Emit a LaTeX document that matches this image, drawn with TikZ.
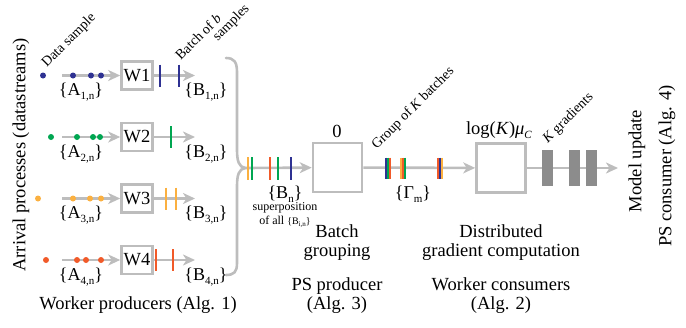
\documentclass[tikz,border=0pt]{standalone}
\usepackage{fontspec}
\setmainfont{Liberation Serif}
\usetikzlibrary{arrows.meta}

\definecolor{cblue}{HTML}{2E3192}
\definecolor{cgreen}{HTML}{00A651}
\definecolor{corange}{HTML}{FBB040}
\definecolor{cred}{HTML}{F15A29}
\definecolor{flow}{HTML}{BDBDBD}
\definecolor{gradbar}{HTML}{8C8C8C}

% lowered small subscript used in the set labels
\newcommand\lowsub[1]{\raisebox{-0.5ex}{\fontsize{11}{11}\selectfont #1}}

\tikzset{
  flowline/.style={draw=flow, line width=2.6pt},
  flowarrow/.style={flowline, -{Stealth[length=12pt,width=11pt,inset=3.5pt]}},
  wbox/.style={draw=flow, line width=2.6pt, fill=white, minimum width=31pt,
    minimum height=28pt, inner sep=0pt, font=\fontsize{18.5}{19}\selectfont},
  bigbox/.style={draw=flow, line width=2.6pt, fill=white, minimum size=49pt, inner sep=0pt},
  lbl/.style={font=\fontsize{18.5}{19}\selectfont, inner sep=0pt, align=center},
  setlbl/.style={font=\fontsize{18}{18}\selectfont, inner sep=0pt, anchor=base},
  small/.style={font=\fontsize{12}{12}\selectfont, inner sep=0pt, anchor=base},
  rotlbl/.style={font=\fontsize{14}{14}\selectfont, inner sep=0pt, rotate=45, anchor=south west},
  bar/.style={line width=2.4pt},
  thinbar/.style={line width=2.3pt},
}

\begin{document}
\begin{tikzpicture}[x=1pt,y=1pt]
\useasboundingbox (0,-327) rectangle (686,0);

% ---------- worker producers ----------
\foreach \i/\y/\c/\first/\da/\db/\dc in {
    1/-75.5/cblue/43/73/91/101,
    2/-137/cgreen/51/77/93/100,
    3/-198.5/corange/38/73/90/101,
    4/-260/cred/46/77/86/101} {
  \coordinate (in\i) at (62,\y);
  \coordinate (out\i) at (195,\y);
  \node[wbox] (w\i) at (137,\y) {W\i};
  \draw[flowarrow] (in\i) -- (w\i);
  \draw[flowarrow] (w\i) -- (out\i);
  \fill[\c] (\first,\y) circle (3pt);
  \fill[\c] (\da,\y) circle (3pt);
  \fill[\c] (\db,\y) circle (3pt);
  \fill[\c] (\dc,\y) circle (3pt);
  \node[setlbl] (a\i) at (81,\y-20) {\{A\lowsub{\i,n}\}};
  \node[setlbl] (b\i) at (206,\y-20) {\{B\lowsub{\i,n}\}};
}

% batches leaving each worker
\draw[cblue,bar] (160,-64.5) -- (160,-86.5);
\draw[cblue,bar] (179,-64.5) -- (179,-86.5);
\draw[cgreen,bar] (171,-126) -- (171,-148);
\draw[corange,bar] (166,-187.5) -- (166,-209.5);
\draw[corange,bar] (176,-187.5) -- (176,-209.5);
\draw[cred,bar] (156,-249) -- (156,-271);
\draw[cred,bar] (173,-249) -- (173,-271);

% rotated annotations
\node[rotlbl] (datasample) at (49,-70) {Data sample};
\node[rotlbl] (batchofb) at (181,-61) {Batch of \textit{b}};
\node[rotlbl] (samples) at (220,-44) {samples};

\node[lbl, rotate=90] (arrival) at (21,-155) {Arrival processes (datastreams)};
\node[lbl] (wprod) at (138,-305) {Worker producers (Alg. 1)};

% ---------- merge brace ----------
\coordinate (tip) at (245,-168);
\coordinate (braceTop) at (226,-58);
\coordinate (braceBot) at (226,-275);
\draw[flowline, line cap=round]
  (braceTop) .. controls (234,-58) and (237,-62) .. (237,-72)
  -- (237,-150) .. controls (237,-161) and (239,-167) .. (tip);
\draw[flowline, line cap=round]
  (tip) .. controls (239,-169) and (237,-175) .. (237,-186)
  -- (237,-263) .. controls (237,-272) and (234,-275) .. (braceBot);

% ---------- PS producer ----------
\node[bigbox] (batch) at (337.5,-167.5) {};
\draw[flowarrow] (tip) -- (batch);
\draw[corange,bar] (248,-157) -- (248,-180);
\draw[cgreen,bar] (252,-157) -- (252,-180);
\draw[cred,bar] (270,-157) -- (270,-180);
\draw[cgreen,bar] (278,-157) -- (278,-180);
\draw[cblue,bar] (291,-157) -- (291,-180);

\node[setlbl] (bn) at (285,-198) {\{B\lowsub{n}\}};
\node[small] (superpos) at (285,-210) {superposition};
\node[small] (ofall) at (285,-224) {of all {\fontsize{10}{10}\selectfont\{B\lowsub{\fontsize{7}{7}\selectfont i,n}\}}};

\node[lbl, anchor=base] (zero) at (337,-137) {0};
\node[lbl] (grouping) at (337,-243) {Batch\\grouping};
\node[lbl] (psprod) at (337,-296) {PS producer\\(Alg. 3)};

% ---------- worker consumers ----------
\node[bigbox] (grad) at (501,-168) {};
\draw[flowarrow] (batch) -- (grad);

% groups of K batches
\foreach \cx/\ca/\cb/\cc in {388/cblue/cgreen/cred, 403/corange/cred/cgreen, 440/cred/cblue/corange} {
  \draw[\ca,thinbar] (\cx-2.3,-157.5) -- (\cx-2.3,-178.5);
  \draw[\cb,thinbar] (\cx,-157.5) -- (\cx,-178.5);
  \draw[\cc,thinbar] (\cx+2.3,-157.5) -- (\cx+2.3,-178.5);
}
\node[setlbl] (gamma) at (413,-198) {\{Γ\lowsub{m}\}};
\node[rotlbl] (groupK) at (379,-152) {Group of \textit{K} batches};

\node[lbl, anchor=base] (cost) at (499,-134) {log(\textit{K})\textit{μ}\lowsub{\textit{C}}};
\node[lbl] (distgrad) at (501,-243) {Distributed\\gradient computation};
\node[lbl] (wcons) at (501,-296) {Worker consumers\\(Alg. 2)};

% ---------- PS consumer ----------
\coordinate (upd) at (618,-168);
\draw[flowarrow] (grad) -- (upd);
\fill[gradbar] (542,-150) rectangle (553,-186);
\fill[gradbar] (569,-150) rectangle (580,-186);
\fill[gradbar] (586,-150) rectangle (597,-186);
\node[rotlbl] (kgrad) at (550,-146) {\textit{K} gradients};

\node[lbl, rotate=90] (model) at (637,-161) {Model update};
\node[lbl, rotate=90] (pscons) at (667,-166) {PS consumer (Alg. 4)};
\end{tikzpicture}
\end{document}
